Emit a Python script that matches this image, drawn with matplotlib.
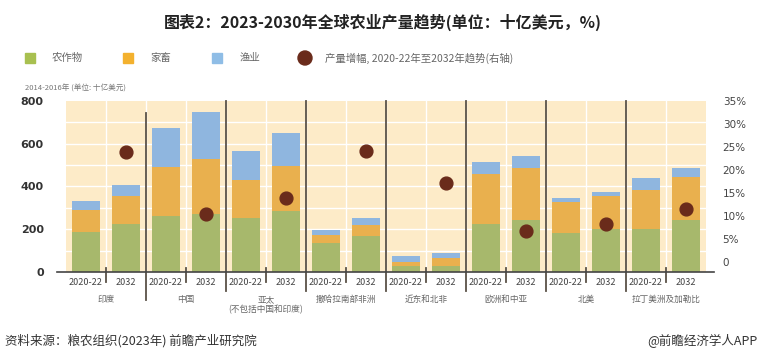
import numpy as np
import matplotlib
matplotlib.use('Agg')
import matplotlib.pyplot as plt
from matplotlib.patches import Rectangle, Ellipse

plt.rcParams['font.family'] = ['Noto Sans CJK SC', 'DejaVu Sans']

# data
regions = ['印度', '中国', '亚太\n(不包括中国和印度)', '撒哈拉南部非洲',
           '近东和北非', '欧洲和中亚', '北美', '拉丁美洲及加勒比']
periods = ['2020-22', '2032']
crops = [188, 226, 260, 271, 253, 284, 136, 170, 26, 26, 222, 242, 180, 203, 203, 242]
livestock = [100, 127, 230, 258, 178, 212, 38, 50, 22, 40, 235, 243, 146, 150, 181, 200]
fish = [42, 52, 184, 217, 136, 152, 24, 30, 26, 24, 56, 59, 20, 19, 53, 46]
growth = [23.9, 10.3, 13.8, 24.0, 17.2, 6.7, 8.3, 11.5]
left_ticks = [0, 200, 400, 600, 800]
right_ticks = [0, 5, 10, 15, 20, 25, 30, 35]

c_green = '#a7b86c'
c_orange = '#e9b04e'
c_blue = '#8fb6df'
c_dot = '#6a2b1b'
c_bg = '#fdebc8'
c_sep = '#5a5248'

fig = plt.figure(figsize=(7.6, 3.61), dpi=100)
ax = fig.add_axes([66/760, 1-272/361, 640/760, 171.3/361])

n = len(crops)
x = np.arange(n)
ax.set_facecolor(c_bg)
ax.set_xlim(-0.5, n-0.5)
ax.set_ylim(0, 800)

# white grid
for v in range(100, 800, 100):
    ax.axhline(v, color='white', lw=1.0, zorder=1)
for k in range(n-1):
    ax.axvline(k+0.5, color='white', lw=1.0, zorder=1)

cr = np.array(crops)
lv = np.array(livestock)
fs = np.array(fish)
ax.bar(x, cr, width=0.7, color=c_green, zorder=2)
ax.bar(x, lv, width=0.7, bottom=cr, color=c_orange, zorder=2)
ax.bar(x, fs, width=0.7, bottom=cr+lv, color=c_blue, zorder=2)

for s in ax.spines.values():
    s.set_visible(False)
ax.plot([-0.72, n-0.3], [0, 0], color='#444444', lw=1.2, clip_on=False, zorder=5)

ax.set_xticks([])
ax.set_yticks(left_ticks)
ax.set_yticklabels([str(t) for t in left_ticks], fontsize=8, color='#333333',
                   fontweight='bold', family='DejaVu Sans')
ax.tick_params(axis='y', length=0, pad=16)

# separators between regions
for g in range(1, len(regions)):
    xs = 2*g - 0.5
    top = 744 if g == 1 else 800
    bot = -130 if g == 1 else -88
    ax.plot([xs, xs], [top, bot], color=c_sep, lw=1.3, clip_on=False, zorder=4)
# short ticks inside groups
for g in range(len(regions)):
    xs = 2*g + 0.5
    ax.plot([xs, xs], [19, -47], color=c_sep, lw=1.3, clip_on=False, zorder=4)

# labels under bars
for i in range(n):
    ax.text(i, -50, periods[i % 2], ha='center', va='center', fontsize=6.5,
            color='#444444')
for g, name in enumerate(regions):
    ax.text(2*g + 0.5, -108, name, ha='center', va='top', fontsize=6.2,
            color='#666666', linespacing=1.1)

# growth dots on right axis
ax2 = ax.twinx()
ax2.set_ylim(-2.24, 35)
ax2.scatter(x[1::2], growth, s=85, color=c_dot, zorder=6)
for s in ax2.spines.values():
    s.set_visible(False)
ax2.set_yticks(right_ticks)
ax2.set_yticklabels(['0'] + [f'{t}%' for t in right_ticks[1:]], fontsize=7.5,
                    color='#444444', family='DejaVu Sans')
ax2.tick_params(axis='y', length=0, pad=12)

# title, legend, notes
fig.text(383/760, 1-22/361, '图表2：2023-2030年全球农业产量趋势(单位：十亿美元，%)',
         ha='center', va='center', fontsize=11.5, fontweight='bold', color='#222222')

leg = [('农作物', '#a8c050', 25, 52), ('家畜', '#f3b12e', 123, 150),
       ('渔业', '#8fbde6', 212, 240)]
for lab, col, xs, xt in leg:
    fig.patches.append(Rectangle((xs/760, 1-63/361), 10/760, 10/361,
                                 transform=fig.transFigure, color=col))
    fig.text(xt/760, 1-58/361, lab, ha='left', va='center', fontsize=7.5, color='#666666')
fig.patches.append(Ellipse((305/760, 1-58/361), 14/760, 14/361,
                           transform=fig.transFigure, color=c_dot))
fig.text(325/760, 1-58/361, '产量增幅, 2020-22年至2032年趋势(右轴)', ha='left',
         va='center', fontsize=7.5, color='#666666')

fig.text(25/760, 1-89/361, '2014-2016年 (单位: 十亿美元)', ha='left', va='center',
         fontsize=5.5, color='#777777')

fig.text(5/760, 1-341/361, '资料来源：粮农组织(2023年) 前瞻产业研究院', ha='left',
         va='center', fontsize=9, color='#333333')
fig.text(757/760, 1-341/361, '@前瞻经济学人APP', ha='right', va='center',
         fontsize=9, color='#333333')

fig.savefig('out.png', dpi=100)
